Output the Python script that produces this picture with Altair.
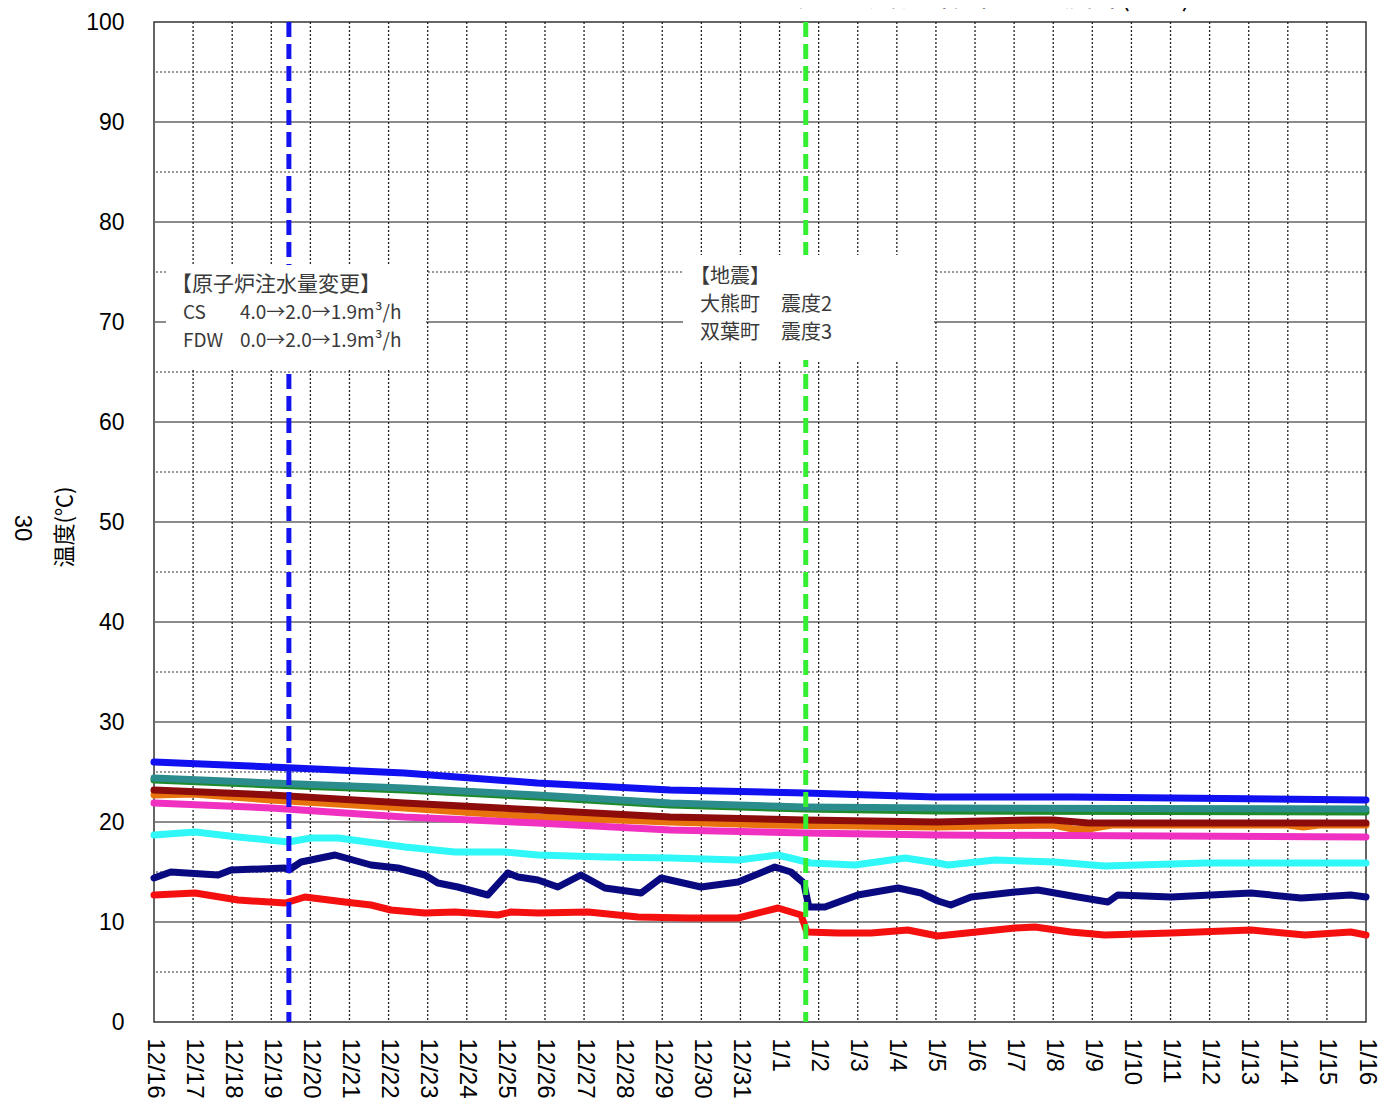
import json
import altair as alt
import pandas as pd

# ---------------- data ----------------
X_LABELS = ["12/16", "12/17", "12/18", "12/19", "12/20", "12/21", "12/22", "12/23",
            "12/24", "12/25", "12/26", "12/27", "12/28", "12/29", "12/30", "12/31",
            "1/1", "1/2", "1/3", "1/4", "1/5", "1/6", "1/7", "1/8", "1/9", "1/10",
            "1/11", "1/12", "1/13", "1/14", "1/15", "1/16"]
DAY_TICKS = list(range(len(X_LABELS)))          # days since 12/16 00:00
Y_MAJOR = list(range(0, 101, 10))
Y_MINOR = list(range(5, 100, 10))

# days since 12/16 00:00 / temperature (deg C)
GREEN_DAY = [0, 3.0, 6.4, 9.8, 13.2, 16.65, 20.0, 31]
GREEN_TEMP = [24.2, 23.7, 23.2, 22.5, 21.7, 21.3, 21.1, 21.0]

TEAL_DAY = [0, 3.0, 6.4, 9.8, 13.2, 16.65, 20.0, 31]
TEAL_TEMP = [24.4, 23.9, 23.4, 22.7, 21.9, 21.5, 21.4, 21.3]

ORANGE_DAY = [0, 1.0, 3.0, 6.4, 9.8, 13.2, 15.8, 20.0, 23.0, 23.5, 23.9, 24.5, 29.0, 29.4, 29.8, 31]
ORANGE_TEMP = [22.7, 22.8, 22.2, 21.4, 20.5, 20.0, 19.7, 19.5, 19.7, 19.3, 19.3, 19.7, 19.7, 19.5, 19.7, 19.7]

MAROON_DAY = [0, 3.0, 6.4, 9.8, 13.2, 16.65, 20.0, 22.5, 23.0, 23.9, 31]
MAROON_TEMP = [23.2, 22.7, 21.9, 21.2, 20.5, 20.2, 20.0, 20.2, 20.2, 19.9, 19.9]

MAGENTA_DAY = [0, 3.0, 6.4, 9.8, 13.2, 16.65, 20.0, 31]
MAGENTA_TEMP = [21.9, 21.4, 20.5, 19.9, 19.2, 18.9, 18.7, 18.5]

BLUE_DAY = [0, 3.0, 6.4, 9.8, 13.2, 16.65, 20.0, 23.5, 31]
BLUE_TEMP = [26.0, 25.5, 24.9, 23.9, 23.2, 22.9, 22.5, 22.5, 22.2]

CYAN_DAY = [0, 1.05, 2.15, 3.43, 4.02, 4.71, 6.42, 7.7, 8.98, 9.82, 11.53, 13.22, 14.94,
            15.96, 16.8, 17.93, 19.21, 20.05, 20.31, 21.51, 23.04, 24.32, 26.88, 31]
CYAN_TEMP = [18.7, 19.0, 18.5, 18.0, 18.4, 18.4, 17.5, 17.0, 17.0, 16.7, 16.5, 16.4, 16.2,
             16.7, 15.9, 15.7, 16.4, 15.9, 15.7, 16.2, 16.0, 15.6, 15.9, 15.9]

NAVY_DAY = [0, 0.43, 1.64, 1.97, 3.35, 3.45, 3.76, 4.63, 5.55, 6.24, 6.93, 7.26, 7.77, 8.54,
            9.05, 9.31, 9.82, 10.33, 10.92, 11.53, 12.46, 12.97, 13.99, 14.94, 15.88, 16.29,
            16.62, 16.75, 17.16, 18.0, 19.03, 19.62, 20.05, 20.38, 20.9, 22.02, 22.61, 23.63,
            24.4, 24.65, 26.01, 28.06, 29.34, 30.61, 31]
NAVY_TEMP = [14.4, 15.0, 14.7, 15.2, 15.4, 15.2, 16.0, 16.7, 15.7, 15.4, 14.7, 13.9, 13.5, 12.7,
             14.9, 14.5, 14.2, 13.5, 14.7, 13.4, 12.9, 14.4, 13.5, 14.0, 15.5, 15.0,
             13.9, 11.5, 11.5, 12.7, 13.4, 12.9, 12.1, 11.7, 12.5, 13.0, 13.2, 12.5,
             12.0, 12.7, 12.5, 12.9, 12.4, 12.7, 12.5]

RED_DAY = [0, 1.05, 2.15, 3.35, 3.61, 3.86, 4.88, 5.55, 6.06, 6.93, 7.7, 8.8, 9.13, 9.82, 11.1,
           12.38, 13.66, 14.94, 15.96, 16.55, 16.7, 17.49, 18.34, 19.28, 20.05, 22.02, 22.53,
           23.45, 24.32, 26.01, 28.06, 29.44, 30.61, 31]
RED_TEMP = [12.7, 12.9, 12.2, 11.9, 12.2, 12.5, 12.0, 11.7, 11.2, 10.9, 11.0, 10.7, 11.0, 10.9, 11.0,
            10.5, 10.4, 10.4, 11.4, 10.7, 9.0, 8.9, 8.9, 9.2, 8.6, 9.4, 9.5,
            9.0, 8.7, 8.9, 9.2, 8.7, 9.0, 8.7]

SERIES = [
    ("温度計G", GREEN_DAY, GREEN_TEMP, "#1f8a2a"),
    ("温度計T", TEAL_DAY, TEAL_TEMP, "#2a8c8c"),
    ("温度計O", ORANGE_DAY, ORANGE_TEMP, "#e8720c"),
    ("温度計M", MAROON_DAY, MAROON_TEMP, "#8c0c0c"),
    ("温度計P", MAGENTA_DAY, MAGENTA_TEMP, "#f030c0"),
    ("温度計B", BLUE_DAY, BLUE_TEMP, "#1010f0"),
    ("温度計C", CYAN_DAY, CYAN_TEMP, "#30f8f8"),
    ("温度計N", NAVY_DAY, NAVY_TEMP, "#0a0a80"),
    ("温度計R", RED_DAY, RED_TEMP, "#f51010"),
]

EVENT_DAYS = [3.45, 16.67]
EVENT_NAMES = ["原子炉注水量変更", "地震"]
EVENT_COLORS = ["#1414f0", "#33ee33"]

TITLE = "3号機　実施計画関連温度計(PCV)"
Y_TITLE = "温度(℃)"
PAGE_NO = "30"
BOX1_LINES = ["【原子炉注水量変更】"]
BOX1_ROWS = [("CS", "4.0→2.0→1.9m³/h"), ("FDW", "0.0→2.0→1.9m³/h")]
BOX2_LINES = ["【地震】"]
BOX2_ROWS = [("大熊町", "震度2"), ("双葉町", "震度3")]

# ---------------- chart ----------------
W, H = 1212, 1000
xs = alt.Scale(domain=[0, 31], nice=False, zero=False)
ys = alt.Scale(domain=[0, 100], nice=False, zero=False)
label_expr = json.dumps(X_LABELS) + "[round(datum.value)]"

X_AXIS = alt.Axis(values=DAY_TICKS, labelExpr=label_expr, title=None, grid=False,
                  ticks=False, domain=False)
Y_AXIS = alt.Axis(values=Y_MAJOR, title=None, grid=False, ticks=False, domain=False)


def X(field):
    return alt.X(field, scale=xs, axis=X_AXIS)


def Y(field):
    return alt.Y(field, scale=ys, axis=Y_AXIS)


one = pd.DataFrame({"a": [0]})

hminor = alt.Chart(pd.DataFrame({"v": Y_MINOR})).mark_rule(
    color="#333", strokeWidth=1.2, strokeDash=[2, 2]
).encode(y=Y("v:Q"))

hmajor = alt.Chart(pd.DataFrame({"v": Y_MAJOR[1:-1]})).mark_rule(
    color="#666", strokeWidth=1.6
).encode(y=Y("v:Q"))

vgrid = alt.Chart(pd.DataFrame({"d": DAY_TICKS[1:-1]})).mark_rule(
    color="#222", strokeWidth=1.3, strokeDash=[2, 2]
).encode(x=X("d:Q"))

line_layers = []
for name, days, temps, col in SERIES:
    df = pd.DataFrame({"day": days, "temp": temps, "series": name})
    line_layers.append(
        alt.Chart(df).mark_line(color=col, strokeWidth=7, strokeJoin="round",
                                strokeCap="round").encode(
            x=X("day:Q"), y=Y("temp:Q"), order="day:Q",
        )
    )

events = alt.Chart(pd.DataFrame({"d": EVENT_DAYS, "name": EVENT_NAMES})).mark_rule(
    strokeWidth=5, strokeDash=[15, 7]
).encode(
    x=X("d:Q"),
    color=alt.Color("name:N", scale=alt.Scale(domain=EVENT_NAMES, range=EVENT_COLORS),
                    legend=None),
)

box1 = alt.Chart(one).mark_rect(fill="white").encode(
    x=alt.value(12), x2=alt.value(272), y=alt.value(243), y2=alt.value(346))
box2 = alt.Chart(one).mark_rect(fill="white").encode(
    x=alt.value(529), x2=alt.value(780), y=alt.value(233), y2=alt.value(338))

JTXT1 = dict(font="Noto Sans CJK JP", fontSize=21, color="#3a3a3a",
             align="left", baseline="middle")
JTXT2 = dict(font="Noto Sans CJK JP", fontSize=19, color="#3a3a3a",
             align="left", baseline="middle")
JTXT3 = dict(font="Noto Sans CJK JP", fontSize=20, color="#3a3a3a",
             align="left", baseline="middle")


def txt(s, x, y, style):
    return alt.Chart(one).mark_text(**style).encode(
        x=alt.value(x), y=alt.value(y), text=alt.value(s))


texts = [
    txt(BOX1_LINES[0], 17, 263, JTXT1),
    txt(BOX1_ROWS[0][0], 29, 291, JTXT2),
    txt(BOX1_ROWS[0][1], 86, 291, JTXT2),
    txt(BOX1_ROWS[1][0], 29, 319, JTXT2),
    txt(BOX1_ROWS[1][1], 86, 319, JTXT2),
    txt(BOX2_LINES[0], 536, 255, JTXT3),
    txt(BOX2_ROWS[0][0], 546, 283, JTXT3),
    txt(BOX2_ROWS[0][1], 627, 283, JTXT3),
    txt(BOX2_ROWS[1][0], 546, 311, JTXT3),
    txt(BOX2_ROWS[1][1], 627, 311, JTXT3),
]

ytitle = alt.Chart(one).mark_text(font="Noto Sans CJK JP", fontSize=22, color="black",
                                  angle=270, align="center", baseline="middle").encode(
    x=alt.value(-89), y=alt.value(505), text=alt.value(Y_TITLE))
pageno = alt.Chart(one).mark_text(font="Liberation Sans", fontSize=24, color="black",
                                  angle=90, align="center", baseline="middle").encode(
    x=alt.value(-132), y=alt.value(506), text=alt.value(PAGE_NO))
title = alt.Chart(one).mark_text(font="Noto Sans CJK JP", fontSize=28, color="black",
                                 align="center", baseline="alphabetic").encode(
    x=alt.value(826), y=alt.value(-16), text=alt.value(TITLE))

chart = alt.layer(
    hminor, hmajor, vgrid, *line_layers, events, box1, box2, *texts,
    ytitle, pageno, title,
).properties(
    width=W, height=H,
    autosize=alt.AutoSizeParams(type="none"),
    padding={"left": 146, "top": 14, "right": 14, "bottom": 80},
).configure_view(
    stroke="#333", strokeWidth=1.5
).configure_axisX(
    labelAngle=90, labelAlign="left", labelBaseline="middle",
    labelFont="Liberation Sans", labelFontSize=24, labelColor="black",
    labelPadding=16, labelOverlap=False,
).configure_axisY(
    labelFont="Liberation Sans", labelFontSize=23, labelColor="black",
    labelPadding=30,
)

chart.save("out.html", embed_options={"renderer": "svg", "actions": False})
